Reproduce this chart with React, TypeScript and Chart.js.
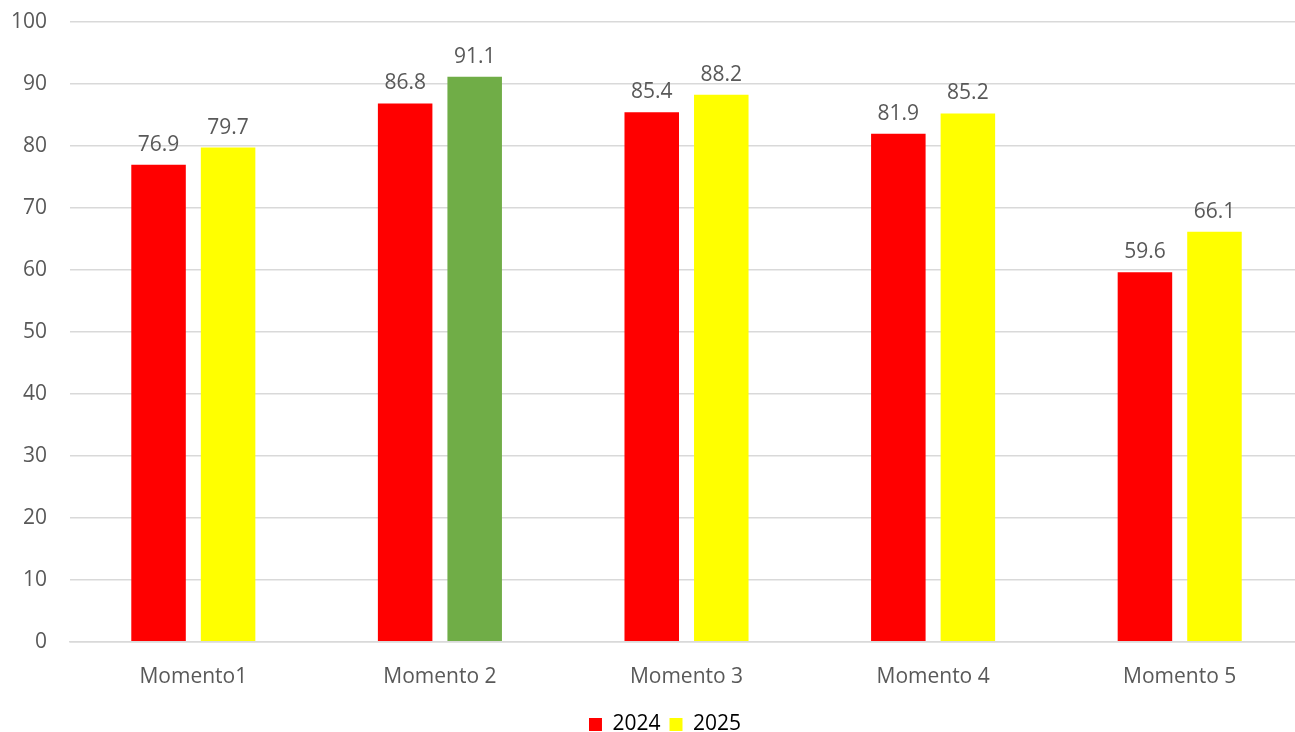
import React, { useEffect, useRef } from "react";
import { Chart, registerables } from "chart.js";

Chart.register(...registerables);

const categories = ["Momento1", "Momento 2", "Momento 3", "Momento 4", "Momento 5"];
const values2024 = [76.9, 86.8, 85.4, 81.9, 59.6];
const values2025 = [79.7, 91.1, 88.2, 85.2, 66.1];
const colors2025 = ["#FFFF00", "#70AD47", "#FFFF00", "#FFFF00", "#FFFF00"];
const yTicks = [0, 10, 20, 30, 40, 50, 60, 70, 80, 90, 100];

const FONT = "'Open Sans', 'Liberation Sans', sans-serif";
const TEXT = "#595959";
const SIZE = 21;

// Draws each bar's value just above its top edge.
const valueLabels = {
  id: "valueLabels",
  afterDatasetsDraw(chart: any) {
    const ctx = chart.ctx;
    ctx.save();
    ctx.font = `${SIZE}px ${FONT}`;
    ctx.fillStyle = TEXT;
    ctx.textAlign = "center";
    ctx.textBaseline = "alphabetic";
    chart.data.datasets.forEach((ds: any, i: number) => {
      const meta = chart.getDatasetMeta(i);
      meta.data.forEach((bar: any, j: number) => {
        ctx.fillText(Number(ds.data[j]).toFixed(1), bar.x, bar.y - 14);
      });
    });
    ctx.restore();
  },
};

export default function App() {
  const canvasRef = useRef<HTMLCanvasElement | null>(null);

  useEffect(() => {
    if (!canvasRef.current) return;
    const chart = new Chart(canvasRef.current, {
      type: "bar",
      data: {
        labels: categories,
        datasets: [
          {
            label: "2024",
            data: values2024,
            backgroundColor: "#FF0000",
            barPercentage: 0.784,
            categoryPercentage: 0.564,
          },
          {
            label: "2025",
            data: values2025,
            backgroundColor: colors2025,
            barPercentage: 0.784,
            categoryPercentage: 0.564,
          },
        ],
      },
      options: {
        animation: false,
        responsive: true,
        maintainAspectRatio: false,
        layout: { padding: { top: 0, right: -39, left: -12, bottom: -13 } },
        scales: {
          x: {
            grid: { display: false },
            border: { color: "#D9D9D9", width: 1.5 },
            ticks: {
              color: TEXT,
              font: { family: FONT, size: SIZE },
              padding: 15,
            },
          },
          y: {
            min: 0,
            max: 100,
            afterBuildTicks: (axis: any) => {
              axis.ticks = yTicks.map((v) => ({ value: v }));
            },
            grid: { color: "#D9D9D9", lineWidth: 1.5, drawTicks: false },
            border: { display: false },
            ticks: {
              color: TEXT,
              font: { family: FONT, size: SIZE },
              padding: 23,
            },
          },
        },
        plugins: {
          legend: {
            position: "bottom",
            labels: {
              color: TEXT,
              font: { family: FONT, size: SIZE },
              boxWidth: 13,
              boxHeight: 13,
              padding: 9,
              generateLabels: () => [
                { text: "2024", fillStyle: "#FF0000", strokeStyle: "#FF0000", lineWidth: 0, datasetIndex: 0 },
                { text: "2025", fillStyle: "#FFFF00", strokeStyle: "#FFFF00", lineWidth: 0, datasetIndex: 1 },
              ],
            },
          },
          tooltip: { enabled: false },
        },
      },
      plugins: [valueLabels],
    });
    return () => chart.destroy();
  }, []);

  return (
    <div style={{ position: "fixed", left: 0, top: 0, width: 1295, height: 732, overflow: "hidden", background: "#fff" }}>
      <div style={{ position: "absolute", left: 0, top: -14, width: 1303, height: 746 }}>
        <canvas ref={canvasRef} />
      </div>
    </div>
  );
}
